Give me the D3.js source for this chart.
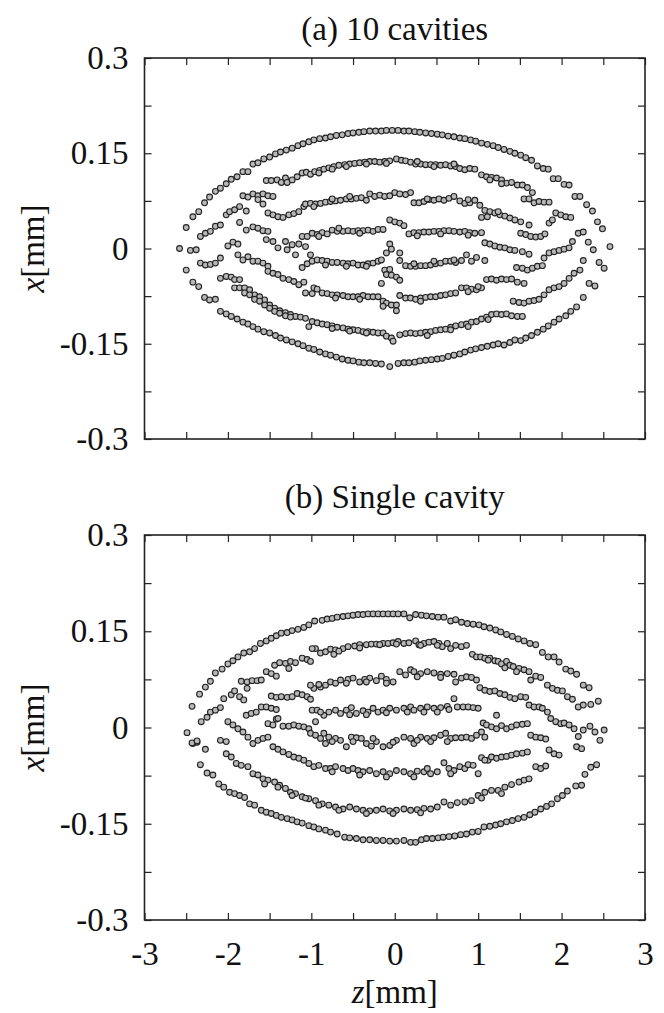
<!DOCTYPE html>
<html>
<head>
<meta charset="utf-8">
<script src="https://cdn.jsdelivr.net/npm/d3@7"></script>
<style>
  body { margin: 0; background: #fff; }
  svg text { font-family: "Liberation Serif", "Times New Roman", serif; fill: #111; }
</style>
</head>
<body>
<svg id="fig" width="664" height="1013"></svg>
<script>
// axis ticks and labels
var zTickValues = [-3,-2.5,-2,-1.5,-1,-0.5,0,0.5,1,1.5,2,2.5,3];
var zTickLabels = ["-3","","-2","","-1","","0","","1","","2","","3"];
var xTickValues = [-0.3,-0.225,-0.15,-0.075,0,0.075,0.15,0.225,0.3];
var xTickLabels = ["-0.3","","-0.15","","0","","0.15","","0.3"];

// (a) 10 cavities : [z mm, x mm]
var topOuterUpper = [[-2.58,0.000],[-2.50,0.033],[-2.42,0.050],[-2.35,0.058],[-2.28,0.072],[-2.22,0.081],[-2.15,0.090],[-2.09,0.095],[-2.02,0.102],[-1.96,0.109],[-1.89,0.113],[-1.82,0.121],[-1.76,0.121],[-1.70,0.133],[-1.64,0.135],[-1.57,0.141],[-1.50,0.144],[-1.43,0.149],[-1.37,0.152],[-1.30,0.155],[-1.23,0.158],[-1.16,0.162],[-1.10,0.165],[-1.03,0.168],[-0.97,0.171],[-0.90,0.173],[-0.83,0.174],[-0.77,0.176],[-0.70,0.178],[-0.63,0.179],[-0.56,0.181],[-0.50,0.182],[-0.43,0.183],[-0.37,0.184],[-0.30,0.185],[-0.23,0.185],[-0.16,0.185],[-0.10,0.186],[-0.03,0.186],[0.04,0.186],[0.11,0.185],[0.17,0.185],[0.24,0.184],[0.30,0.183],[0.37,0.182],[0.44,0.181],[0.51,0.180],[0.57,0.179],[0.64,0.177],[0.71,0.176],[0.78,0.174],[0.84,0.173],[0.91,0.171],[0.97,0.169],[1.04,0.166],[1.11,0.164],[1.18,0.162],[1.24,0.159],[1.31,0.156],[1.38,0.153],[1.44,0.150],[1.51,0.147],[1.57,0.143],[1.64,0.139],[1.71,0.130],[1.78,0.126],[1.84,0.125],[1.90,0.110],[1.96,0.110],[2.03,0.101],[2.09,0.100],[2.16,0.082],[2.22,0.082],[2.30,0.069],[2.37,0.059],[2.43,0.042],[2.49,0.031],[2.58,0.003]];

var topOuterLower = [[-2.50,-0.034],[-2.42,-0.053],[-2.35,-0.060],[-2.28,-0.077],[-2.22,-0.081],[-2.15,-0.080],[-2.09,-0.099],[-2.02,-0.103],[-1.96,-0.107],[-1.89,-0.111],[-1.82,-0.116],[-1.76,-0.119],[-1.70,-0.123],[-1.64,-0.127],[-1.57,-0.131],[-1.50,-0.133],[-1.43,-0.137],[-1.37,-0.141],[-1.30,-0.144],[-1.23,-0.147],[-1.16,-0.150],[-1.10,-0.153],[-1.03,-0.157],[-0.97,-0.159],[-0.90,-0.163],[-0.83,-0.166],[-0.77,-0.168],[-0.70,-0.171],[-0.63,-0.174],[-0.56,-0.176],[-0.50,-0.177],[-0.43,-0.179],[-0.37,-0.180],[-0.30,-0.180],[-0.23,-0.181],[-0.16,-0.182],[-0.06,-0.186],[0.04,-0.181],[0.11,-0.180],[0.17,-0.180],[0.24,-0.179],[0.30,-0.177],[0.37,-0.176],[0.44,-0.175],[0.51,-0.174],[0.57,-0.173],[0.64,-0.170],[0.71,-0.168],[0.78,-0.166],[0.84,-0.163],[0.91,-0.160],[0.97,-0.158],[1.04,-0.156],[1.11,-0.154],[1.18,-0.152],[1.24,-0.150],[1.31,-0.152],[1.38,-0.148],[1.44,-0.144],[1.51,-0.145],[1.57,-0.141],[1.64,-0.137],[1.71,-0.132],[1.78,-0.127],[1.84,-0.122],[1.91,-0.116],[1.97,-0.111],[2.05,-0.106],[2.11,-0.099],[2.18,-0.092],[2.26,-0.077],[2.33,-0.055],[2.40,-0.059],[2.45,-0.022],[2.51,-0.031]];

var topBandsUpper = [
  [-1.54,0.107],[-1.48,0.107],[-1.41,0.108],[-1.36,0.104],[-1.31,0.111],[-1.29,0.104],[-1.23,0.108],[-1.17,0.113],[-1.11,0.119],[-1.06,0.120],[-1.01,0.117],[-0.96,0.121],[-0.90,0.123],[-0.85,0.125],[-0.79,0.127],[-0.73,0.129],[-0.67,0.131],[-0.60,0.132],[-0.54,0.133],[-0.48,0.134],[-0.42,0.135],[-0.36,0.136],[-0.30,0.137],[-0.24,0.137],[-0.18,0.136],[-0.12,0.137],[-0.06,0.138],[0.02,0.141],[0.08,0.139],[0.13,0.138],[0.19,0.136],[0.25,0.133],[0.31,0.133],[0.37,0.132],[0.43,0.132],[0.49,0.132],[0.55,0.131],[0.61,0.132],[0.67,0.130],[0.73,0.129],[0.78,0.126],[0.84,0.124],[0.90,0.126],[0.96,0.125],
  [-0.91,0.119],[-0.75,0.125],[-0.58,0.129],[-0.34,0.133],[-0.10,0.134],[0.27,0.137],[0.47,0.129],[0.71,0.133],
  [1.04,0.116],[1.10,0.113],[1.16,0.112],[1.22,0.111],[1.28,0.108],[1.34,0.103],[1.40,0.104],[1.47,0.100],[1.53,0.100],[1.59,0.096],[1.65,0.088],[1.14,0.108],[1.28,0.102],
  [1.55,0.078],[1.61,0.078],[1.67,0.072],[1.73,0.074],[1.79,0.073],[1.85,0.073],
  [-1.82,0.083],[-1.76,0.081],[-1.70,0.086],[-1.64,0.083],[-1.58,0.086],[-1.52,0.083],[-1.46,0.082],[-1.64,0.077],[-1.58,0.070],
  [-1.52,0.056],[-1.46,0.053],[-1.40,0.050],[-1.34,0.049],[-1.27,0.053],[-1.21,0.055],[-1.15,0.058],[-1.09,0.066],[-1.07,0.070],[-1.01,0.071],[-0.95,0.070],[-0.89,0.071],[-0.83,0.073],[-0.77,0.074],[-0.71,0.075],[-0.65,0.076],[-0.58,0.078],[-0.52,0.078],[-0.46,0.079],[-0.40,0.080],[-0.34,0.076],[-0.30,0.086],[-0.24,0.082],[-0.18,0.084],[-0.12,0.082],[-0.06,0.083],[0.00,0.088],[0.06,0.086],[0.13,0.085],[0.19,0.088],
  [0.23,0.072],[0.29,0.072],[0.35,0.074],[0.41,0.077],[0.47,0.076],[0.53,0.078],[0.59,0.076],[0.65,0.079],[0.71,0.082],[0.78,0.075],[0.84,0.071],[0.90,0.072],[0.96,0.076],[1.02,0.068],[1.08,0.060],[1.14,0.058],[1.20,0.056],[1.26,0.053],[1.32,0.051],[1.38,0.048],[1.44,0.045],[1.51,0.042],[1.61,0.037],[1.04,0.049],[1.11,0.050],
  [-0.97,0.066],[-0.75,0.078],[-0.54,0.082],[0.39,0.078],[0.88,0.077],[1.24,0.058],
  [1.51,0.024],[1.57,0.022],[1.63,0.019],[1.69,0.018],[1.75,0.019],[1.80,0.023],[1.85,0.040],[1.89,0.045],[1.93,0.056],[1.99,0.053],[2.05,0.050],[2.11,0.049],
  [-2.33,0.019],[-2.27,0.024],[-2.21,0.027],[-2.15,0.035],[-2.09,0.037],[-2.02,0.053],[-1.98,0.058],[-1.92,0.061],[-1.86,0.066],[-1.78,0.059],
  [-1.86,0.041],[-1.78,0.029],[-1.70,0.034],[-1.64,0.032],[-1.58,0.028],[-1.52,0.027],[-1.54,0.014],[-1.46,0.011],[-1.40,0.001],[-1.31,0.011],[-1.29,-0.002],[-1.23,0.006],[-1.19,-0.010],[-1.15,0.007],[-1.07,0.003],[-1.01,-0.010],
  [-1.11,0.019],[-1.05,0.019],[-0.99,0.024],[-0.93,0.022],[-0.87,0.025],[-0.81,0.023],[-0.75,0.029],[-0.69,0.027],[-0.62,0.027],[-0.56,0.028],[-0.50,0.027],[-0.44,0.028],[-0.38,0.028],[-0.32,0.029],[-0.26,0.027],[-0.20,0.030],[-0.14,0.030],[-0.06,0.045],[0.00,0.042],[0.06,0.040],[0.11,0.036],[0.17,0.023],[0.23,0.025],[0.29,0.025],[0.35,0.026],[0.41,0.026],[0.47,0.027],[0.53,0.027],[0.59,0.028],[0.65,0.028],[0.71,0.027],[0.78,0.026],[0.84,0.027],[0.90,0.025],[0.96,0.024],[1.04,0.025],
  [-0.91,0.019],[-0.67,0.032],[-0.42,0.024],[0.27,0.020],[0.55,0.023],[0.88,0.021],
  [1.08,0.009],[1.14,0.007],[1.20,0.004],[1.26,0.002],[1.32,0.001],[1.38,-0.002],[1.44,-0.003],[1.53,-0.005],[1.61,-0.009],
  [1.46,-0.030],[1.53,-0.031],[1.59,-0.034],[1.65,-0.031],[1.71,-0.028],[1.77,-0.027],[1.79,-0.015],[1.85,-0.007],[1.91,-0.005],[1.97,-0.003],[2.03,-0.001],[2.09,0.001],[2.13,0.011],[2.20,0.024],[2.26,0.026],[2.32,0.010],[2.38,-0.002]
];

var topBandsLower = [
  [-1.11,-0.030],[-1.05,-0.024],[-0.99,-0.020],[-0.93,-0.018],[-0.87,-0.019],[-0.81,-0.020],[-0.75,-0.022],[-0.69,-0.022],[-0.62,-0.023],[-0.56,-0.024],[-0.50,-0.023],[-0.44,-0.026],[-0.38,-0.026],[-0.32,-0.024],[-0.26,-0.023],[-0.20,-0.020],[-0.16,-0.018],[-0.83,-0.026],[-0.58,-0.028],[-0.34,-0.028],
  [-0.06,0.007],[-0.04,-0.001],[-0.10,-0.007],[0.06,-0.007],[0.06,-0.019],[0.13,-0.027],[0.19,-0.028],[0.25,-0.028],[0.31,-0.027],[0.37,-0.027],[0.43,-0.026],[0.49,-0.024],[0.55,-0.023],[0.61,-0.020],[0.67,-0.020],[0.73,-0.022],[0.80,-0.019],[0.86,-0.010],[0.92,-0.020],[0.98,-0.014],[1.08,-0.019],[0.23,-0.024],[0.47,-0.020],[0.71,-0.018],
  [-0.12,-0.034],[-0.06,-0.033],[-0.10,-0.041],[-0.04,-0.042],[0.02,-0.045],[-0.16,-0.055],[0.06,-0.050],
  [-1.07,-0.070],[-0.99,-0.071],[-0.97,-0.062],[-0.93,-0.064],[-0.87,-0.070],[-0.81,-0.071],[-0.75,-0.073],[-0.69,-0.073],[-0.62,-0.074],[-0.56,-0.076],[-0.50,-0.076],[-0.44,-0.076],[-0.38,-0.074],[-0.32,-0.076],[-0.26,-0.076],[-0.20,-0.076],[-0.14,-0.083],[-0.10,-0.086],[-0.04,-0.089],[0.02,-0.089],[-0.14,-0.091],[0.02,-0.098],
  [0.06,-0.074],[0.13,-0.078],[0.19,-0.078],[0.25,-0.080],[0.31,-0.078],[0.37,-0.077],[0.43,-0.076],[0.49,-0.076],[0.55,-0.074],[0.61,-0.073],[0.67,-0.071],[0.73,-0.070],[0.80,-0.062],[0.86,-0.062],[0.92,-0.064],[0.98,-0.065],[1.04,-0.062],[1.10,-0.049],[1.16,-0.048],[1.22,-0.050],[1.28,-0.048],[1.34,-0.049],[1.40,-0.048],[1.47,-0.053],[1.55,-0.055],
  [-0.71,-0.078],[-0.42,-0.080],[0.31,-0.083],[0.88,-0.068],[1.00,-0.060],
  [1.42,-0.083],[1.49,-0.085],[1.55,-0.086],[1.61,-0.083],[1.67,-0.082],[1.73,-0.080],[1.79,-0.073],[1.85,-0.065],[1.91,-0.062],[1.97,-0.060],[2.03,-0.055],[2.09,-0.047],[2.15,-0.039],[2.22,-0.034],[2.26,-0.019],
  [-1.88,-0.010],[-1.82,-0.018],[-1.76,-0.013],[-1.70,-0.020],[-1.64,-0.020],[-1.58,-0.023],[-1.52,-0.028],[-1.52,-0.036],[-1.46,-0.039],[-1.40,-0.041],[-1.34,-0.047],[-1.27,-0.049],[-1.21,-0.052],[-1.15,-0.057],[-1.09,-0.053],
  [-2.33,-0.023],[-2.27,-0.026],[-2.21,-0.025],[-2.15,-0.023],[-2.09,-0.015],[-2.00,0.004],[-1.94,0.010],[-1.88,0.007],[-2.45,-0.003],[-2.38,-0.002],
  [-2.09,-0.047],[-2.02,-0.044],[-1.96,-0.045],[-1.92,-0.049],[-1.86,-0.049],[-1.92,-0.062],[-1.86,-0.062],[-1.80,-0.062],[-1.74,-0.065],[-1.68,-0.073],[-1.62,-0.076],[-1.56,-0.081],[-1.50,-0.089],[-1.44,-0.094],[-1.38,-0.098],[-1.31,-0.101],[-1.25,-0.104],[-1.19,-0.107],[-1.13,-0.108],[-1.07,-0.110],[-1.03,-0.123],[-0.99,-0.115],[-0.93,-0.117],[-0.87,-0.119],[-0.81,-0.120],[-0.75,-0.122],[-0.69,-0.124],[-0.62,-0.125],[-0.56,-0.127],[-0.50,-0.128],[-0.44,-0.129],[-0.38,-0.131],[-0.32,-0.131],[-0.26,-0.132],[-0.20,-0.133],[-0.14,-0.133],[-0.10,-0.138],[-0.04,-0.141],[-0.02,-0.146],
  [0.06,-0.136],[0.13,-0.134],[0.19,-0.133],[0.25,-0.134],[0.31,-0.133],[0.37,-0.132],[0.43,-0.131],[0.49,-0.129],[0.55,-0.128],[0.61,-0.127],[0.67,-0.124],[0.73,-0.122],[0.80,-0.120],[0.86,-0.119],[0.92,-0.116],[0.98,-0.115],[1.04,-0.111],[1.10,-0.108],[1.16,-0.104],[1.22,-0.103],[1.28,-0.104],[1.34,-0.103],[1.40,-0.106],[1.47,-0.107],[1.53,-0.107],
  [-1.80,-0.070],[-1.74,-0.073],[-1.68,-0.080],[-1.62,-0.083],[-1.56,-0.089],[-1.50,-0.094],[-1.44,-0.099],[-1.38,-0.102],[-1.31,-0.106],[-1.25,-0.108],
  [-0.75,-0.126],[-0.54,-0.130],[-0.34,-0.133],[0.39,-0.137],[0.67,-0.128],[0.88,-0.123],[1.12,-0.112]
];

// (b) Single cavity : [z mm, x mm]
var bottomOuterUpper = [[-2.49,-0.008],[-2.43,0.033],[-2.34,0.052],[-2.27,0.063],[-2.21,0.072],[-2.15,0.085],[-2.07,0.091],[-2.00,0.099],[-1.94,0.104],[-1.88,0.110],[-1.81,0.116],[-1.74,0.118],[-1.68,0.123],[-1.61,0.131],[-1.54,0.135],[-1.48,0.139],[-1.42,0.143],[-1.36,0.147],[-1.29,0.148],[-1.23,0.151],[-1.16,0.153],[-1.09,0.156],[-1.03,0.160],[-0.96,0.166],[-0.87,0.167],[-0.81,0.169],[-0.75,0.170],[-0.69,0.172],[-0.62,0.173],[-0.56,0.174],[-0.50,0.175],[-0.44,0.176],[-0.38,0.176],[-0.32,0.177],[-0.26,0.177],[-0.20,0.177],[-0.14,0.177],[-0.08,0.177],[-0.02,0.177],[0.04,0.177],[0.11,0.177],[0.18,0.171],[0.25,0.176],[0.32,0.175],[0.38,0.174],[0.45,0.173],[0.52,0.172],[0.59,0.172],[0.67,0.166],[0.73,0.168],[0.80,0.164],[0.87,0.162],[0.94,0.161],[1.01,0.160],[1.07,0.157],[1.14,0.155],[1.21,0.152],[1.27,0.149],[1.34,0.145],[1.41,0.142],[1.48,0.138],[1.55,0.135],[1.62,0.131],[1.69,0.129],[1.77,0.117],[1.84,0.110],[1.91,0.110],[1.97,0.102],[2.05,0.091],[2.11,0.088],[2.18,0.083],[2.26,0.066],[2.33,0.062],[2.35,0.036],[2.44,0.041],[2.51,-0.004]];

var bottomOuterLower = [[-2.42,-0.025],[-2.37,-0.023],[-2.27,-0.034],[-2.33,-0.058],[-2.25,-0.071],[-2.18,-0.074],[-2.11,-0.088],[-2.05,-0.093],[-1.98,-0.101],[-1.92,-0.103],[-1.86,-0.106],[-1.80,-0.109],[-1.74,-0.119],[-1.68,-0.121],[-1.60,-0.129],[-1.54,-0.132],[-1.48,-0.134],[-1.42,-0.137],[-1.36,-0.140],[-1.29,-0.142],[-1.23,-0.144],[-1.17,-0.147],[-1.11,-0.149],[-1.03,-0.153],[-0.97,-0.155],[-0.91,-0.158],[-0.83,-0.160],[-0.77,-0.163],[-0.69,-0.166],[-0.60,-0.171],[-0.54,-0.172],[-0.46,-0.173],[-0.38,-0.175],[-0.30,-0.175],[-0.22,-0.176],[-0.14,-0.176],[-0.06,-0.177],[0.02,-0.177],[0.11,-0.176],[0.19,-0.179],[0.25,-0.179],[0.32,-0.175],[0.38,-0.173],[0.45,-0.173],[0.52,-0.172],[0.58,-0.171],[0.65,-0.170],[0.72,-0.169],[0.79,-0.167],[0.86,-0.166],[0.93,-0.163],[1.00,-0.162],[1.07,-0.155],[1.14,-0.154],[1.21,-0.152],[1.27,-0.150],[1.34,-0.147],[1.41,-0.145],[1.48,-0.142],[1.55,-0.140],[1.62,-0.136],[1.68,-0.132],[1.75,-0.127],[1.82,-0.123],[1.88,-0.119],[1.95,-0.111],[2.01,-0.106],[2.07,-0.099],[2.17,-0.091],[2.24,-0.090],[2.28,-0.073],[2.35,-0.062],[2.42,-0.058]];

var bottomBandsUpper = [
  [-0.95,0.123],[-0.89,0.116],[-0.83,0.118],[-0.77,0.122],[-0.71,0.121],[-0.62,0.123],[-0.56,0.126],[-0.48,0.127],[-0.42,0.129],[-0.34,0.129],[-0.28,0.130],[-0.22,0.130],[-0.14,0.131],[-0.08,0.131],[-0.02,0.132],[0.04,0.134],[0.11,0.131],[0.17,0.132],[0.25,0.135],[0.29,0.129],[0.35,0.131],[0.41,0.133],[0.47,0.134],[0.53,0.131],[0.57,0.126],[0.63,0.131],[0.67,0.123],[0.73,0.128],[0.80,0.126],[0.86,0.128],
  [-0.99,0.123],[-0.73,0.114],[-0.67,0.119],[-0.42,0.124],[-0.18,0.129],[0.02,0.130],[0.31,0.128],[0.51,0.128],
  [0.93,0.114],[0.98,0.110],[1.03,0.110],[1.08,0.108],[1.14,0.108],[1.20,0.104],[1.24,0.103],[1.28,0.099],[1.34,0.103],[1.38,0.097],[1.42,0.095],[1.49,0.092],[1.55,0.090],[1.61,0.087],[1.63,0.074],[1.69,0.080],[1.75,0.078],[1.83,0.066],[1.89,0.061],[1.95,0.058],[2.01,0.057],[2.07,0.048],[2.13,0.044],[2.20,0.032],[2.26,0.035],[1.12,0.105],[1.32,0.093],[1.46,0.087],
  [-1.44,0.097],[-1.38,0.101],[-1.31,0.100],[-1.25,0.103],[-1.19,0.101],[-1.27,0.092],[-1.11,0.108],[-1.05,0.106],[-1.01,0.103],
  [-1.84,0.072],[-1.77,0.071],[-1.71,0.073],[-1.65,0.073],[-1.60,0.074],[-1.54,0.087],[-1.48,0.084],[-1.42,0.080],[-1.77,0.061],
  [-0.97,0.061],[-0.89,0.063],[-0.83,0.066],[-0.77,0.071],[-0.71,0.069],[-0.65,0.074],[-0.56,0.075],[-0.50,0.077],[-0.42,0.071],[-0.36,0.075],[-0.30,0.077],[-0.22,0.073],[-0.16,0.080],[-0.10,0.075],[-0.02,0.071],[0.06,0.087],[0.13,0.082],[0.19,0.090],[0.23,0.087],[0.31,0.084],[0.39,0.087],[0.47,0.085],[0.55,0.083],[0.63,0.084],[0.71,0.083],[0.73,0.071],[0.80,0.077],[0.86,0.079],[0.92,0.078],[0.98,0.074],
  [-1.01,0.066],[-0.91,0.067],[-0.58,0.069],[-0.34,0.071],[-0.10,0.069],[0.27,0.079],[0.55,0.078],
  [1.02,0.062],[1.08,0.058],[1.14,0.056],[1.20,0.057],[1.26,0.053],[1.32,0.051],[1.38,0.047],[1.44,0.045],[1.51,0.048],[1.57,0.047],[1.61,0.035],[1.67,0.032],[1.73,0.032],[1.77,0.030],[1.83,0.024],[1.87,0.014],[1.93,0.009],[1.99,0.006],[2.03,0.007],[2.09,0.004],[2.15,-0.002],[2.20,-0.014],[2.26,-0.004],[2.34,0.002],[2.40,-0.007],[2.46,-0.020],
  [-2.05,0.045],[-1.96,0.051],[-1.92,0.057],[-1.86,0.048],[-1.81,0.043],[-2.21,0.024],[-2.15,0.027],[-2.09,0.031],[-2.32,0.009],[-2.25,0.016],
  [-1.78,0.019],[-1.72,0.022],[-1.66,0.024],[-1.60,0.032],[-1.54,0.032],[-1.48,0.030],[-1.42,0.028],[-1.42,0.013],
  [-1.48,0.049],[-1.42,0.047],[-1.36,0.048],[-1.29,0.047],[-1.23,0.048],[-1.17,0.053],[-1.11,0.051],[-1.05,0.048],[-1.01,0.044],
  [-0.99,0.027],[-0.93,0.027],[-0.85,0.019],[-0.79,0.024],[-0.71,0.027],[-0.65,0.022],[-0.58,0.027],[-0.52,0.031],[-0.46,0.022],[-0.38,0.026],[-0.32,0.024],[-0.26,0.030],[-0.20,0.024],[-0.14,0.027],[-0.06,0.030],[0.02,0.027],[0.11,0.030],[0.19,0.032],[0.23,0.027],[0.31,0.030],[0.39,0.032],[0.47,0.030],[0.55,0.031],[0.63,0.033],[0.71,0.045],[0.75,0.032],[0.82,0.032],[0.88,0.032],[0.94,0.031],[1.00,0.030],
  [-0.95,0.009],[-0.89,0.024],[-0.54,0.020],[-0.34,0.020],[-0.10,0.023],[0.15,0.024],[0.35,0.024],[0.51,0.024],[0.65,0.028],
  [1.06,0.007],[1.10,0.004],[1.16,0.001],[1.22,-0.002],[1.22,0.019],[1.28,0.003],[1.34,-0.002],[1.40,0.001],[1.46,0.004],[1.53,0.005],[1.59,0.006]
];

var bottomBandsLower = [
  [-1.52,0.006],[-1.46,0.004],[-1.40,0.014],[-1.34,0.002],[-1.27,0.002],[-1.21,0.004],[-1.15,0.002],[-1.09,0.001],[-1.03,-0.002],
  [-1.01,-0.009],[-0.95,-0.012],[-0.89,-0.017],[-0.83,-0.025],[-0.79,-0.015],[-0.71,-0.017],[-0.65,-0.020],[-0.58,-0.030],[-0.52,-0.015],[-0.46,-0.016],[-0.40,-0.017],[-0.34,-0.025],[-0.28,-0.029],[-0.22,-0.022],[-0.14,-0.030],[-0.06,-0.028],[0.02,-0.020],[0.11,-0.015],[0.19,-0.017],[0.23,-0.025],[0.31,-0.015],[0.39,-0.017],[0.47,-0.016],[0.55,-0.012],[0.61,-0.009],[0.67,-0.017],[0.73,-0.016],[0.80,-0.016],[0.86,-0.015],[0.92,-0.017],[0.98,-0.012],[1.04,-0.007],[1.08,-0.015],[-0.85,-0.009],
  [-0.75,-0.022],[-0.50,-0.022],[-0.26,-0.017],[-0.02,-0.023],[0.27,-0.020],[0.43,-0.022],[0.63,-0.022],
  [1.12,-0.051],[1.16,-0.046],[1.22,-0.048],[1.28,-0.046],[1.34,-0.045],[1.40,-0.043],[1.46,-0.041],[1.53,-0.040],[1.59,-0.038],[1.04,-0.047],
  [1.63,-0.012],[1.69,-0.015],[1.75,-0.016],[1.81,-0.018],[1.85,-0.035],[1.91,-0.041],[1.97,-0.043],[1.69,-0.061],[1.75,-0.064],[1.81,-0.060],[2.18,-0.030],[2.24,-0.033],
  [-2.00,0.009],[-1.94,0.004],[-1.88,-0.002],[-1.82,-0.007],[-1.76,-0.015],[-1.70,-0.025],[-1.64,-0.020],[-1.58,-0.017],[-1.52,-0.015],[-1.46,-0.030],[-1.40,-0.034],[-1.34,-0.038],[-1.27,-0.042],[-1.21,-0.046],[-1.15,-0.048],[-1.09,-0.051],[-1.03,-0.056],[-0.97,-0.061],[-0.91,-0.059],[-0.83,-0.064],[-0.77,-0.064],[-0.71,-0.061],[-0.62,-0.064],[-0.56,-0.067],[-0.50,-0.064],[-0.44,-0.067],[-0.38,-0.069],[-0.30,-0.067],[-0.22,-0.072],[-0.14,-0.069],[-0.06,-0.072],[0.02,-0.067],[0.11,-0.069],[0.19,-0.072],[0.27,-0.068],[0.35,-0.069],[0.43,-0.072],[0.51,-0.069],[0.59,-0.055],[0.65,-0.064],[0.71,-0.067],[0.78,-0.061],[0.84,-0.064],[0.88,-0.058],[0.94,-0.059],[1.00,-0.072],[1.08,-0.051],
  [-0.75,-0.069],[-0.42,-0.074],[-0.10,-0.077],[0.23,-0.077],[0.39,-0.064],[0.67,-0.072],
  [-2.43,-0.024],[-2.37,-0.021],[-2.09,-0.020],[-2.02,-0.022],
  [-2.02,-0.041],[-1.96,-0.046],[-1.90,-0.056],[-1.84,-0.059],[-1.76,-0.061],[-1.70,-0.072],[-1.64,-0.074],[-1.58,-0.080],[-1.52,-0.082],[-1.44,-0.085],[-1.38,-0.090],[-1.31,-0.095],[-1.25,-0.101],[-1.19,-0.103],[-1.11,-0.108],[-1.03,-0.111],[-0.95,-0.114],[-0.87,-0.119],[-0.79,-0.121],[-0.71,-0.124],[-0.62,-0.127],[-0.54,-0.124],[-0.46,-0.127],[-0.38,-0.129],[-0.30,-0.130],[-0.22,-0.129],[-0.14,-0.127],[-0.06,-0.130],[0.02,-0.129],[0.11,-0.127],[0.19,-0.129],[0.27,-0.128],[0.35,-0.126],[0.43,-0.127],[0.51,-0.124],[0.59,-0.116],[0.67,-0.121],[0.75,-0.117],[0.84,-0.116],[0.92,-0.114],[1.00,-0.106],[1.08,-0.101],[1.16,-0.098],[1.24,-0.098],[1.32,-0.093],[1.40,-0.089],[1.49,-0.085],[1.55,-0.082],[1.61,-0.080],
  [-1.56,-0.088],[-1.40,-0.093],[-1.23,-0.106],[-1.07,-0.110],[-0.91,-0.121],[-0.67,-0.129],[-0.34,-0.134],[-0.02,-0.134],[0.31,-0.133],[1.04,-0.110],[1.28,-0.103]
];

var panels = [
  {title: "(a) 10 cavities", titleGap: 18, top: 58, bottom: 439, zLabels: false, sets: [topOuterUpper, topOuterLower, topBandsUpper, topBandsLower]},
  {title: "(b) Single cavity", titleGap: 27, top: 535, bottom: 920, zLabels: true, sets: [bottomOuterUpper, bottomOuterLower, bottomBandsUpper, bottomBandsLower]}
];

var svg = d3.select("#fig"),
    left = 144.5, right = 645;

var x = d3.scaleLinear().domain([-3, 3]).range([left, right]);

function styleAxis(g) {
  g.select(".domain").remove();
  g.selectAll(".tick line").attr("stroke", "#222").attr("stroke-width", 1.2);
  g.selectAll(".tick text").attr("font-size", 33).attr("fill", "#111");
}

panels.forEach(function(p) {
  var y = d3.scaleLinear().domain([-0.3, 0.3]).range([p.bottom, p.top]);
  var g = svg.append("g");

  g.append("g")
      .attr("transform", "translate(0," + p.bottom + ")")
      .call(d3.axisBottom(x).tickValues(zTickValues).tickSize(-7).tickPadding(22)
        .tickFormat(function(d, i) { return p.zLabels ? zTickLabels[i] : ""; }))
      .call(styleAxis);

  g.append("g")
      .attr("transform", "translate(0," + p.top + ")")
      .call(d3.axisTop(x).tickValues(zTickValues).tickSize(-7).tickFormat(""))
      .call(styleAxis);

  g.append("g")
      .attr("transform", "translate(" + left + ",0)")
      .call(d3.axisLeft(y).tickValues(xTickValues).tickSize(-7).tickPadding(16)
        .tickFormat(function(d, i) { return xTickLabels[i]; }))
      .call(styleAxis);

  g.append("g")
      .attr("transform", "translate(" + right + ",0)")
      .call(d3.axisRight(y).tickValues(xTickValues).tickSize(-7).tickFormat(""))
      .call(styleAxis);

  g.append("rect")
      .attr("x", left).attr("y", p.top)
      .attr("width", right - left).attr("height", p.bottom - p.top)
      .attr("fill", "none").attr("stroke", "#222").attr("stroke-width", 1.6);

  g.append("text")
      .attr("x", (left + right) / 2).attr("y", p.top - p.titleGap)
      .attr("text-anchor", "middle").attr("font-size", 33)
      .text(p.title);

  var lab = g.append("text")
      .attr("transform", "translate(44," + (p.top + p.bottom) / 2 + ") rotate(-90)")
      .attr("text-anchor", "middle").attr("font-size", 33);
  lab.append("tspan").attr("font-style", "italic").text("x");
  lab.append("tspan").text("[mm]");

  var pts = g.append("g");
  p.sets.forEach(function(set) {
    pts.selectAll(null)
        .data(set)
      .enter().append("circle")
        .attr("cx", function(d) { return x(d[0]); })
        .attr("cy", function(d) { return y(d[1]); })
        .attr("r", 2.9)
        .attr("fill", "#b8b8b8")
        .attr("stroke", "#222")
        .attr("stroke-width", 1.1);
  });
});

var zl = svg.append("text")
    .attr("x", (left + right) / 2).attr("y", 1003)
    .attr("text-anchor", "middle").attr("font-size", 33);
zl.append("tspan").attr("font-style", "italic").text("z");
zl.append("tspan").text("[mm]");
</script>
</body>
</html>
